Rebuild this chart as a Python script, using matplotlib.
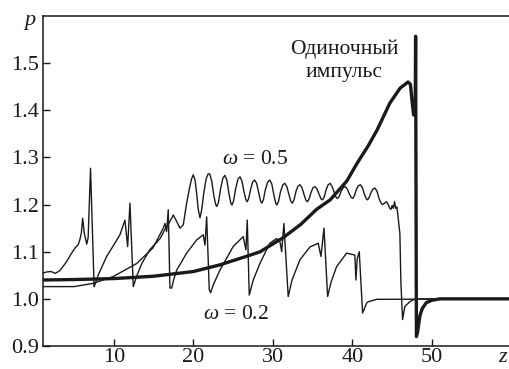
import numpy as np
import matplotlib
matplotlib.use("Agg")
import matplotlib.pyplot as plt

plt.rcParams['font.family'] = ['Liberation Serif', 'DejaVu Serif']
plt.rcParams['mathtext.fontset'] = 'custom'
plt.rcParams['mathtext.rm'] = 'Liberation Serif'
plt.rcParams['mathtext.it'] = 'Liberation Serif:italic'

# single pulse (thick)
pulse_z = [1.0, 5.0, 10.0, 15.0, 20.0, 23.3, 27.0, 28.4, 31.3, 33.5, 35.5, 37.2, 39.3,
           40.6, 42.0, 43.1, 44.7, 46.0, 47.0, 47.3, 47.5, 47.7, 47.9, 47.95, 48.05,
           48.2, 48.5, 48.8, 49.3, 50.0, 51.0, 60.0]
pulse_p = [1.040, 1.041, 1.043, 1.048, 1.058, 1.072, 1.092, 1.100, 1.130, 1.158, 1.190, 1.210, 1.250,
           1.288, 1.325, 1.358, 1.415, 1.447, 1.460, 1.455, 1.420, 1.390, 1.400, 1.557, 0.920,
           0.930, 0.965, 0.980, 0.992, 0.997, 1.000, 1.000]

# omega = 0.5
w05_z = [1.0, 1.5, 2.1, 2.6, 3.2, 4.0, 4.6, 5.1, 5.5, 5.7, 5.9, 6.06, 6.26, 6.57, 6.75, 7.05, 7.5,
         7.6, 8.03, 9.08, 10.0, 10.75, 11.38, 11.55, 11.72, 12.01, 12.43,
         12.6, 12.9, 13.5, 14.5, 15.8, 16.5, 16.9, 17.26, 17.46, 17.89, 18.3, 18.72, 19.14,
         19.5, 19.77, 19.97, 20.2, 20.4, 20.6, 20.82, 21.05, 21.3, 21.6, 21.85, 22.05, 22.3, 22.55,
         22.8, 22.95, 23.15, 23.4, 23.7, 23.95, 24.2, 24.45, 24.7, 24.85, 25.05, 25.3, 25.6, 25.85,
         26.1, 26.35, 26.6, 26.75, 26.95, 27.2, 27.45, 27.7, 27.95, 28.2, 28.45, 28.6, 28.8, 29.05,
         29.35, 29.6, 29.85, 30.1, 30.35, 30.5, 30.7, 30.95, 31.25, 31.5, 31.75, 32.0, 32.25, 32.45,
         32.65, 32.9, 33.15, 33.4, 33.65, 33.9, 34.15, 34.35, 34.55, 34.8, 35.05, 35.3, 35.55, 35.8,
         36.05, 36.25, 36.45, 36.7, 36.95, 37.2, 37.45, 37.7, 37.95, 38.15, 38.35, 38.6, 38.85, 39.1,
         39.35, 39.6, 39.85, 40.05, 40.25, 40.5, 40.75, 41.0, 41.25, 41.5, 41.75, 41.9, 42.1, 42.35,
         42.6, 42.85, 43.1, 43.35, 43.6, 43.8, 44.05, 44.3, 44.5, 44.7, 44.85, 45.0, 45.15, 45.3,
         45.45, 45.6, 45.97, 46.1, 46.31, 46.6, 47.23, 47.65, 48.5, 60.0]
w05_p = [1.054, 1.057, 1.058, 1.054, 1.060, 1.078, 1.095, 1.108, 1.115, 1.125, 1.140, 1.171, 1.140, 1.116, 1.130, 1.277, 1.026,
         1.030, 1.051, 1.090, 1.115, 1.136, 1.167, 1.140, 1.111, 1.203, 1.026,
         1.035, 1.050, 1.075, 1.104, 1.128, 1.150, 1.160, 1.171, 1.178, 1.164, 1.150, 1.157, 1.203,
         1.235, 1.255, 1.263, 1.252, 1.224, 1.190, 1.172, 1.190, 1.225, 1.255, 1.265, 1.265, 1.250, 1.220,
         1.200, 1.196, 1.205, 1.232, 1.256, 1.262, 1.252, 1.225, 1.203, 1.199, 1.208, 1.233, 1.254, 1.259,
         1.250, 1.228, 1.210, 1.206, 1.213, 1.233, 1.248, 1.252, 1.245, 1.226, 1.207, 1.203, 1.210, 1.232,
         1.248, 1.252, 1.244, 1.222, 1.203, 1.199, 1.207, 1.227, 1.242, 1.245, 1.238, 1.222, 1.207, 1.203,
         1.210, 1.228, 1.239, 1.242, 1.236, 1.222, 1.209, 1.206, 1.212, 1.226, 1.236, 1.238, 1.233, 1.222,
         1.212, 1.210, 1.216, 1.232, 1.242, 1.245, 1.238, 1.226, 1.215, 1.213, 1.218, 1.229, 1.236, 1.238,
         1.233, 1.223, 1.215, 1.213, 1.219, 1.232, 1.240, 1.242, 1.236, 1.222, 1.212, 1.210, 1.215, 1.226,
         1.233, 1.235, 1.228, 1.213, 1.203, 1.200, 1.203, 1.206, 1.200, 1.192, 1.190, 1.198, 1.192, 1.206,
         1.192, 1.195, 1.139, 1.034, 0.956, 0.984, 0.994, 0.998, 1.000, 1.000]

# omega = 0.2
w02_z = [1.0, 5.0, 7.4, 9.87, 12.86, 14.9, 16.2, 16.42, 16.63, 16.83, 17.04, 17.26,
         17.5, 17.89, 19.14, 20.4, 21.23, 21.45, 21.66, 21.99, 22.16,
         22.5, 23.33, 25.0, 26.26, 26.6, 26.77, 27.02,
         27.52, 28.36, 29.6, 30.47, 30.9, 31.1, 31.38, 31.92,
         32.4, 33.4, 34.65, 35.7, 36.04, 36.42, 36.88,
         37.3, 38.0, 39.27, 40.3, 40.44, 40.6, 40.86, 41.28, 41.79, 42.0, 43.04, 60.0]
w02_p = [1.026, 1.026, 1.033, 1.047, 1.075, 1.108, 1.150, 1.160, 1.143, 1.189, 1.023, 1.023,
         1.040, 1.061, 1.097, 1.125, 1.136, 1.114, 1.174, 1.019, 1.013,
         1.030, 1.061, 1.111, 1.132, 1.104, 1.167, 1.008,
         1.040, 1.075, 1.118, 1.128, 1.120, 1.100, 1.160, 1.005,
         1.040, 1.083, 1.110, 1.118, 1.090, 1.150, 1.005,
         1.035, 1.068, 1.097, 1.093, 1.040, 1.085, 1.100, 0.970, 0.991, 0.994, 0.999, 1.000]

y_ticks = [0.9, 1.0, 1.1, 1.2, 1.3, 1.4, 1.5]
x_ticks = [10, 20, 30, 40, 50]

fig = plt.figure(figsize=(5.09, 3.69), dpi=100)
ax = fig.add_axes([43 / 509, 23 / 369, 466 / 509, 330 / 369])

ax.plot(w05_z, w05_p, color='#1a1a1a', lw=1.0)
ax.plot(w02_z, w02_p, color='#1a1a1a', lw=1.0)
ax.plot(pulse_z, pulse_p, color='#1a1a1a', lw=2.4)

ax.set_xlim(1.07, 59.7)
ax.set_ylim(0.9, 1.6)
ax.set_xticks(x_ticks)
ax.set_yticks(y_ticks)
ax.set_yticklabels([f"{v:.1f}" for v in y_ticks])
ax.tick_params(direction='in', length=5, width=1.0, labelsize=16, colors='#1a1a1a')
ax.tick_params(axis='x', pad=1.5)
ax.tick_params(axis='y', pad=3)
ax.spines['right'].set_visible(False)
for s in ['left', 'bottom', 'top']:
    ax.spines[s].set_linewidth(1.1)
    ax.spines[s].set_color('#1a1a1a')

ax.text(27.7, 1.295, r"$\omega$ = 0.5", fontsize=15.5, ha='center', va='center', color='#1a1a1a')
ax.text(25.3, 0.966, r"$\omega$ = 0.2", fontsize=15.5, ha='center', va='center', color='#1a1a1a')
ax.text(39.0, 1.505, "Одиночный\nимпульс", fontsize=15.5, ha='center', va='center',
        linespacing=1.3, color='#1a1a1a')

fig.text(30 / 509, 1 - 20 / 369, "p", fontsize=16, fontstyle='italic', ha='center', va='center',
         color='#1a1a1a')
fig.text(503 / 509, 1 - 357 / 369, "z", fontsize=16, fontstyle='italic', ha='center', va='center',
         color='#1a1a1a')

fig.savefig("out.png", dpi=100)
